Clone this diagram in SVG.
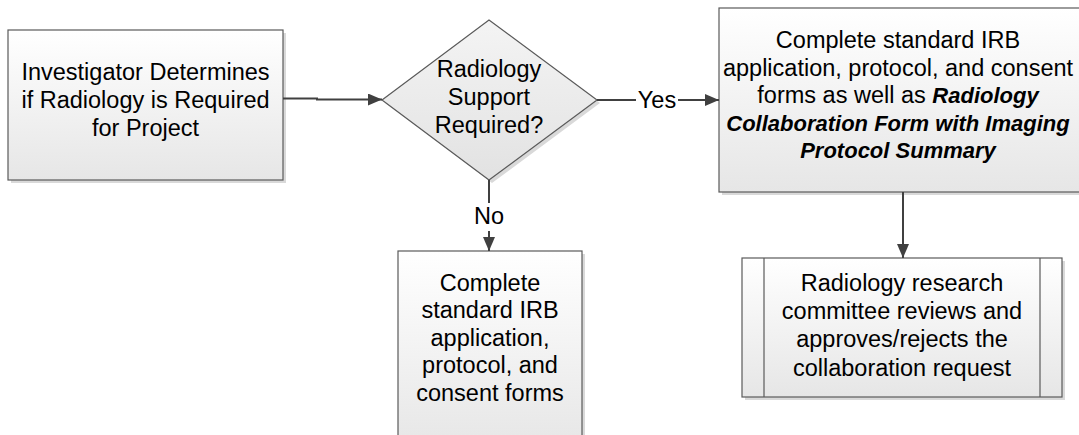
<svg xmlns="http://www.w3.org/2000/svg" width="1079" height="435" viewBox="0 0 1079 435">
  <defs>
    <linearGradient id="boxfill" x1="0" y1="0" x2="0" y2="1">
      <stop offset="0" stop-color="#ffffff"/>
      <stop offset="1" stop-color="#e6e6e6"/>
    </linearGradient>
    <linearGradient id="diafill" x1="0" y1="0" x2="0" y2="1">
      <stop offset="0" stop-color="#f4f4f4"/>
      <stop offset="1" stop-color="#e2e2e2"/>
    </linearGradient>
    <marker id="arrow" markerWidth="14" markerHeight="12" refX="14" refY="6" orient="auto" markerUnits="userSpaceOnUse">
      <path d="M0,0 L14,6 L0,12 Z" fill="#404040"/>
    </marker>
  </defs>
  <style>
    .box { fill: url(#boxfill); stroke: #5a5a5a; stroke-width: 1.2; }
    .dia { fill: url(#diafill); stroke: #5a5a5a; stroke-width: 1.2; }
    .shadow { fill: #d9d9d9; }
    .t { font-family: "Liberation Sans", Arial, sans-serif; font-size: 23.5px; fill: #000; text-anchor: middle; }
    .bi { font-weight: bold; font-style: italic; font-size: 22px; }
    .conn { stroke: #404040; stroke-width: 2; fill: none; }
  </style>
  <rect width="1079" height="435" fill="#ffffff"/>

  <g id="node-investigator">
    <rect class="shadow" x="11" y="33" width="275" height="150"/>
    <rect class="box" x="8" y="30" width="275" height="150"/>
    <text class="t" x="145.5" y="80">Investigator Determines</text>
    <text class="t" x="145.5" y="108">if Radiology is Required</text>
    <text class="t" x="145.5" y="136">for Project</text>
  </g>

  <g id="node-decision">
    <polygon class="shadow" points="385,103 492,23 600,103 492,183"/>
    <polygon class="dia" points="382,100 489,20 597,100 489,180"/>
    <text class="t" x="489" y="77">Radiology</text>
    <text class="t" x="489" y="105">Support</text>
    <text class="t" x="489" y="133">Required?</text>
  </g>

  <g id="node-irb-yes">
    <rect class="shadow" x="722" y="11" width="370" height="184"/>
    <rect class="box" x="719" y="8" width="370" height="184"/>
    <text class="t" x="898" y="48">Complete standard IRB</text>
    <text class="t" x="898" y="76">application, protocol, and consent</text>
    <text class="t" x="898" y="103">forms as well as <tspan class="bi">Radiology</tspan></text>
    <text class="t bi" x="898" y="131">Collaboration Form with Imaging</text>
    <text class="t bi" x="898" y="158">Protocol Summary</text>
  </g>

  <g id="node-irb-no">
    <rect class="shadow" x="401" y="254" width="184" height="200"/>
    <rect class="box" x="398" y="251" width="184" height="200"/>
    <text class="t" x="490" y="291">Complete</text>
    <text class="t" x="490" y="318">standard IRB</text>
    <text class="t" x="490" y="346">application,</text>
    <text class="t" x="490" y="373">protocol, and</text>
    <text class="t" x="490" y="401">consent forms</text>
  </g>

  <g id="node-committee">
    <rect class="shadow" x="745" y="261" width="320" height="139"/>
    <rect class="box" x="742" y="258" width="320" height="139"/>
    <line x1="764" y1="258" x2="764" y2="397" stroke="#5a5a5a" stroke-width="1.2"/>
    <line x1="1040" y1="258" x2="1040" y2="397" stroke="#5a5a5a" stroke-width="1.2"/>
    <text class="t" x="902" y="291">Radiology research</text>
    <text class="t" x="902" y="319">committee reviews and</text>
    <text class="t" x="902" y="347">approves/rejects the</text>
    <text class="t" x="902" y="376">collaboration request</text>
  </g>

  <g id="connectors">
    <polyline class="conn" points="283,98.5 317,98.5 317,99.5 382,99.5" marker-end="url(#arrow)"/>
    <line class="conn" x1="597" y1="100" x2="636" y2="100"/>
    <line class="conn" x1="678" y1="100" x2="719" y2="100" marker-end="url(#arrow)"/>
    <text class="t" x="657" y="108">Yes</text>
    <line class="conn" x1="489" y1="180" x2="489" y2="203"/>
    <line class="conn" x1="489" y1="231" x2="489" y2="251" marker-end="url(#arrow)"/>
    <text class="t" x="489" y="224">No</text>
    <line class="conn" x1="903" y1="192" x2="903" y2="258" marker-end="url(#arrow)"/>
  </g>
</svg>
